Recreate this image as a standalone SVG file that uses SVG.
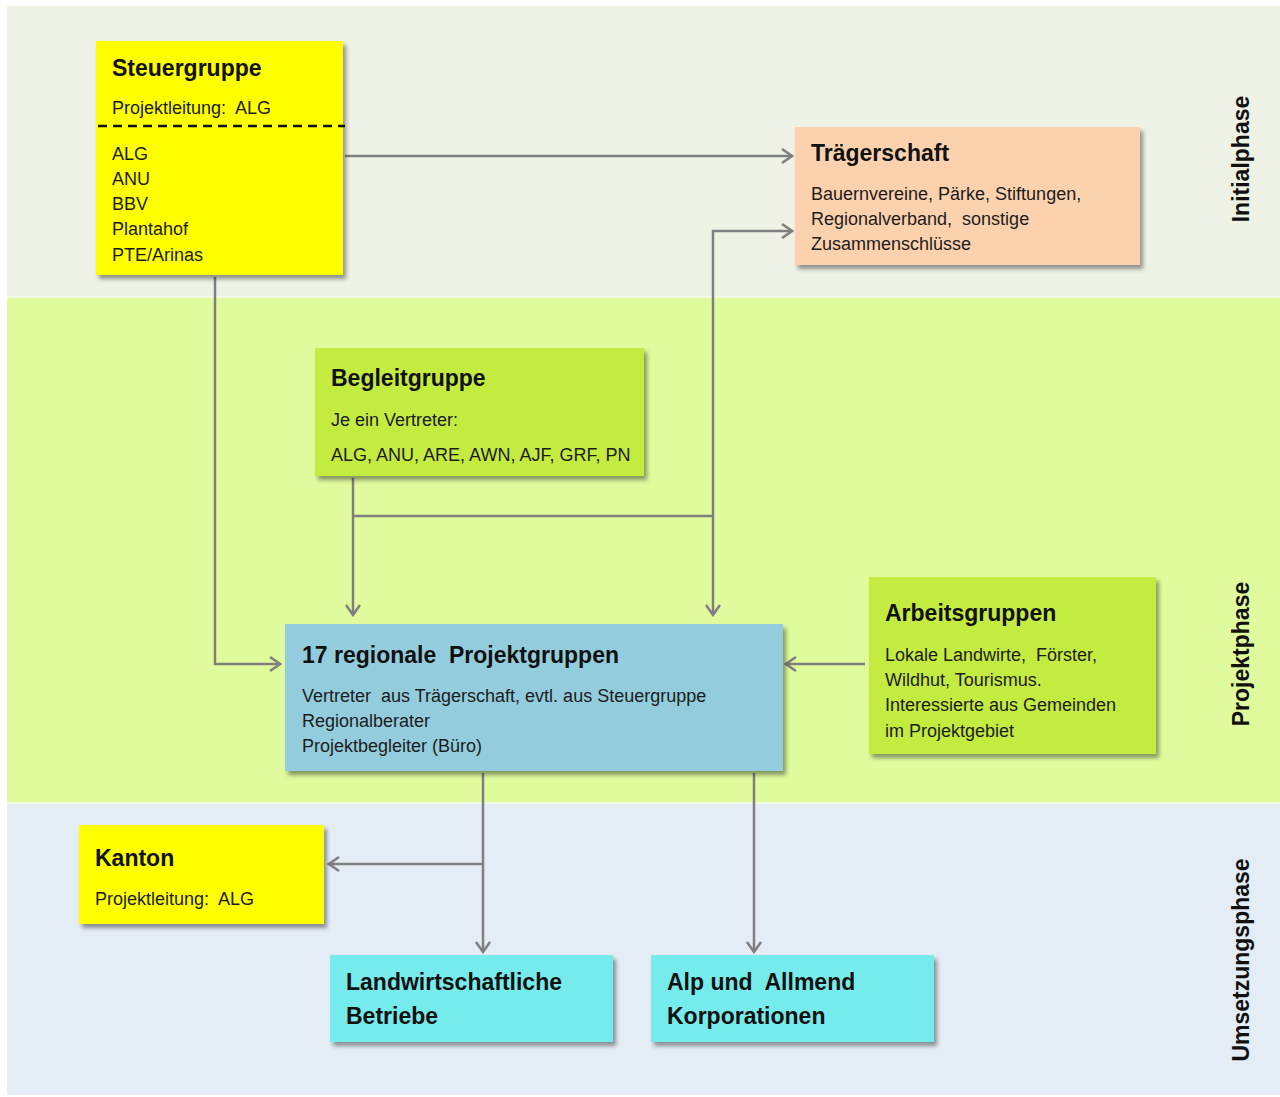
<svg xmlns="http://www.w3.org/2000/svg" width="1280" height="1097" viewBox="0 0 1280 1097" xml:space="preserve">
<style>
text{font-family:"Liberation Sans",Arial,sans-serif;fill:#1c1c1c;white-space:pre}
.t{font-weight:bold;font-size:23px;fill:#111}
.tb{font-weight:bold;font-size:23px;fill:#111}
.b{font-size:18px}
.ph{font-weight:bold;font-size:23px;fill:#111}
.c{fill:none;stroke:#7f7f7f;stroke-width:2.5}
.box{filter:url(#sh)}
</style>
<defs>
<filter id="sh" x="-10%" y="-10%" width="130%" height="130%">
<feDropShadow dx="3" dy="4" stdDeviation="2" flood-color="#000" flood-opacity="0.4"/>
</filter>
<marker id="ah" markerWidth="14" markerHeight="16" refX="12" refY="8" orient="auto" markerUnits="userSpaceOnUse">
<path d="M2,1 L12,8 L2,15" fill="none" stroke="#7f7f7f" stroke-width="2.5"/>
</marker>
</defs>
<rect width="1280" height="1097" fill="#fff"/>
<g id="bands">
<rect x="7" y="6" width="1273" height="291" fill="#eef2e4"/>
<rect x="7" y="297" width="1273" height="506" fill="#e0fb9e"/>
<rect x="7" y="803" width="1273" height="292" fill="#e4ecf6"/>
<line x1="7" y1="297" x2="1280" y2="297" stroke="#f3fbe2" stroke-width="2"/>
<line x1="7" y1="803" x2="1280" y2="803" stroke="#f3fbe2" stroke-width="2"/>
</g>
<g id="phase-labels">
<text class="ph" transform="translate(1249,159) rotate(-90)" text-anchor="middle">Initialphase</text>
<text class="ph" transform="translate(1249,654) rotate(-90)" text-anchor="middle">Projektphase</text>
<text class="ph" transform="translate(1249,960) rotate(-90)" text-anchor="middle">Umsetzungsphase</text>
</g>
<g id="connectors">
<path class="c" d="M345,156 H792" marker-end="url(#ah)"/>
<path class="c" d="M713,516 V231 H792" marker-end="url(#ah)"/>
<path class="c" d="M713,516 V615" marker-end="url(#ah)"/>
<path class="c" d="M353,478 V615" marker-end="url(#ah)"/>
<path class="c" d="M353,516 H713"/>
<path class="c" d="M215,277 V664 H280" marker-end="url(#ah)"/>
<path class="c" d="M865,664 H786" marker-end="url(#ah)"/>
<path class="c" d="M483,773 V952" marker-end="url(#ah)"/>
<path class="c" d="M483,864 H329" marker-end="url(#ah)"/>
<path class="c" d="M754,773 V952" marker-end="url(#ah)"/>
</g>
<g id="steuergruppe">
<rect class="box" x="96" y="41" width="247" height="234" fill="#ffff00"/>
<text class="t" x="112" y="76">Steuergruppe</text>
<text class="b" x="112" y="114">Projektleitung:  ALG</text>
<line x1="98" y1="126" x2="345" y2="126" stroke="#111" stroke-width="2.5" stroke-dasharray="9,6"/>
<text class="b" x="112" y="160">ALG</text>
<text class="b" x="112" y="185">ANU</text>
<text class="b" x="112" y="210">BBV</text>
<text class="b" x="112" y="235">Plantahof</text>
<text class="b" x="112" y="261">PTE/Arinas</text>
</g>
<g id="traegerschaft">
<rect class="box" x="795" y="127" width="345" height="138" fill="#fcd1ae"/>
<text class="t" x="811" y="161">Trägerschaft</text>
<text class="b" x="811" y="200">Bauernvereine, Pärke, Stiftungen,</text>
<text class="b" x="811" y="225">Regionalverband,  sonstige</text>
<text class="b" x="811" y="250">Zusammenschlüsse</text>
</g>
<g id="begleitgruppe">
<rect class="box" x="315" y="348" width="329" height="128" fill="#c4eb40"/>
<text class="t" x="331" y="386">Begleitgruppe</text>
<text class="b" x="331" y="426">Je ein Vertreter:</text>
<text class="b" x="331" y="461">ALG, ANU, ARE, AWN, AJF, GRF, PN</text>
</g>
<g id="projektgruppen">
<rect class="box" x="285" y="624" width="498" height="147" fill="#93cddd"/>
<text class="t" x="302" y="663">17 regionale  Projektgruppen</text>
<text class="b" x="302" y="702">Vertreter  aus Trägerschaft, evtl. aus Steuergruppe</text>
<text class="b" x="302" y="727">Regionalberater</text>
<text class="b" x="302" y="752">Projektbegleiter (Büro)</text>
</g>
<g id="arbeitsgruppen">
<rect class="box" x="869" y="577" width="287" height="177" fill="#c4eb40"/>
<text class="t" x="885" y="621">Arbeitsgruppen</text>
<text class="b" x="885" y="661">Lokale Landwirte,  Förster,</text>
<text class="b" x="885" y="686">Wildhut, Tourismus.</text>
<text class="b" x="885" y="711">Interessierte aus Gemeinden</text>
<text class="b" x="885" y="737">im Projektgebiet</text>
</g>
<g id="kanton">
<rect class="box" x="79" y="825" width="245" height="99" fill="#ffff00"/>
<text class="t" x="95" y="866">Kanton</text>
<text class="b" x="95" y="905">Projektleitung:  ALG</text>
</g>
<g id="landwirtschaftliche-betriebe">
<rect class="box" x="330" y="955" width="283" height="87" fill="#74ebeb"/>
<text class="tb" x="346" y="990">Landwirtschaftliche</text>
<text class="tb" x="346" y="1024">Betriebe</text>
</g>
<g id="alp-allmend">
<rect class="box" x="651" y="955" width="283" height="87" fill="#74ebeb"/>
<text class="tb" x="667" y="990">Alp und  Allmend</text>
<text class="tb" x="667" y="1024">Korporationen</text>
</g>
</svg>
